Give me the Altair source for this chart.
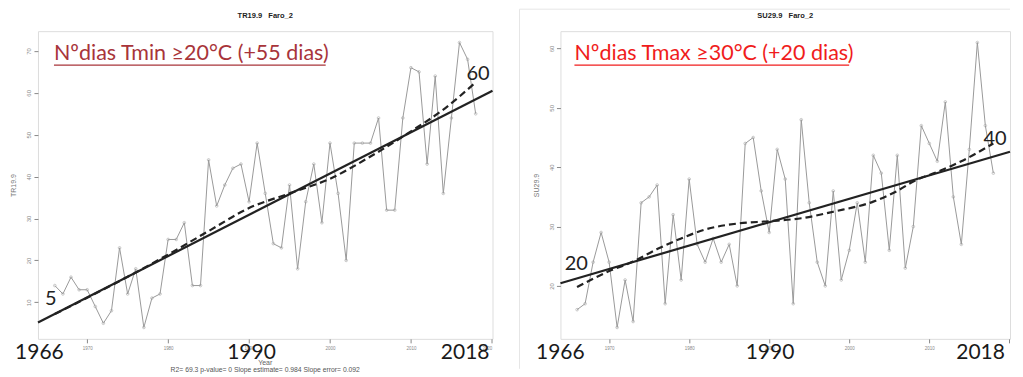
import altair as alt
import pandas as pd

# ---------------- data ----------------
years = list(range(1966, 2019))
tr_values = [14, 12, 16, 13, 13, 9, 5, 8, 23, 12,
             18, 4, 11, 12, 25, 25, 29, 14, 14, 44,
             33, 38, 42, 43, 34, 48, 36, 24, 23, 38,
             18, 34, 43, 29, 48, 36, 20, 48, 48, 48,
             54, 32, 32, 54, 66, 65, 43, 64, 36, 54,
             72, 68, 55]
su_values = [16, 17, 24, 29, 24, 13, 21, 14, 34, 35,
             37, 17, 32, 21, 38, 27, 24, 28, 24, 27,
             20, 44, 45, 36, 29, 43, 38, 17, 48, 34,
             24, 20, 36, 21, 26, 34, 24, 42, 39, 26,
             42, 23, 30, 47, 44, 41, 51, 35, 27, 43,
             61, 47, 39]

# smoothed (dashed) curves
tr_smooth_years = [1966, 1970, 1975, 1980, 1985, 1990, 1995, 2000, 2005, 2010, 2014, 2018]
tr_smooth_values = [7.2, 11.1, 16.1, 21.4, 27.0, 32.5, 36.0, 39.5, 44.8, 50.8, 56.0, 62.5]
su_smooth_years = [1966, 1970, 1973, 1976, 1979, 1982, 1986, 1990, 1994, 1998, 2003, 2006, 2008, 2011, 2014, 2018]
su_smooth_values = [19.8, 22.5, 24.1, 26.2, 28.0, 29.5, 30.5, 30.9, 31.4, 32.5, 34.2, 36.0, 37.6, 39.2, 41.0, 44.0]

# linear trends (ends at the plot edges)
trend_years = [1963.92, 2020.08]
tr_trend_values = [5.2, 60.5]
su_trend_values = [20.45, 42.6]

x_ticks = [1970, 1980, 1990, 2000, 2010, 2020]
tr_y_ticks = [10, 20, 30, 40, 50, 60, 70]
su_y_ticks = [20, 30, 40, 50, 60]
x_domain = [1963.92, 2020.08]
tr_y_domain = [1.28, 74.72]
su_y_domain = [11.08, 62.92]

big_year_labels = ["1966", "1990", "2018"]

H = 308
FONT = "Lato"
SP = "\u00a0\u00a0\u00a0"


def panel(W, vals, sm_years, sm_vals, tr_vals, ydomain, yticks, ytitle, title,
          note, note_color, note_x, note_w, end_labels, big_pos, stats, hide2020, frame):
    xs = alt.Scale(domain=x_domain, nice=False, zero=False)
    ys = alt.Scale(domain=ydomain, nice=False, zero=False)
    label_expr = "datum.value == 2020 ? '' : datum.label" if hide2020 else "datum.label"
    xax = alt.Axis(values=x_ticks, format="d", labelFontSize=4.5, labelColor="#888",
                   tickColor="#888", tickSize=4, labelPadding=3, domain=False,
                   grid=False, title=None, labelExpr=label_expr, labelFont="Liberation Sans")
    yax = alt.Axis(values=yticks, format="d", labelAngle=270, labelFontSize=6,
                   labelColor="#888", tickColor="#888", tickSize=4, labelPadding=2,
                   domain=False, grid=False, title=ytitle, titleFontSize=7,
                   titleFontWeight="normal", titleColor="#777", titlePadding=8,
                   minExtent=13, maxExtent=13, labelFont="Liberation Sans",
                   titleFont="Liberation Sans")

    df = pd.DataFrame({"year": years, "v": vals})
    base = alt.Chart(df)
    line = base.mark_line(color="#9a9a9a", strokeWidth=1).encode(
        x=alt.X("year:Q", scale=xs, axis=xax), y=alt.Y("v:Q", scale=ys, axis=yax))
    pts = base.mark_point(color="#a0a0a0", size=7, filled=False, strokeWidth=0.8).encode(
        x="year:Q", y="v:Q")

    sm = alt.Chart(pd.DataFrame({"year": sm_years, "v": sm_vals})).mark_line(
        color="#222", strokeWidth=2.2, strokeDash=[7, 4], interpolate="monotone").encode(
        x="year:Q", y="v:Q")
    tr = alt.Chart(pd.DataFrame({"year": trend_years, "v": tr_vals})).mark_line(
        color="#222", strokeWidth=2.2).encode(x="year:Q", y="v:Q")

    endl = alt.Chart(pd.DataFrame(end_labels)).mark_text(
        font=FONT, fontSize=20, color="#222").encode(
        x="year:Q", y="v:Q", text="t:N")

    bigl = alt.Chart(pd.DataFrame({"year": big_pos, "t": big_year_labels})).mark_text(
        font=FONT, fontSize=21, color="#1a1a1a", baseline="middle").encode(
        x="year:Q", y=alt.value(H + 14), text="t:N")

    def txt(t, x, y, **kw):
        return alt.Chart(pd.DataFrame({"t": [t]})).mark_text(**kw).encode(
            x=alt.value(x), y=alt.value(y), text="t:N")

    layers = [line, pts, sm, tr, endl, bigl,
              txt(title, W / 2, -15, font="Liberation Sans", fontSize=7.5,
                  fontWeight="bold", color="#222"),
              txt(note, note_x, 23, font=FONT, fontSize=21.5, color=note_color,
                  align="left", baseline="middle"),
              alt.Chart(pd.DataFrame({"a": [0]})).mark_rule(color=note_color, strokeWidth=1.5).encode(
                  x=alt.value(note_x), x2=alt.value(note_x + note_w), y=alt.value(34))]
    if stats:
        layers.append(txt("Year", W / 2, 332, font="Liberation Sans", fontSize=7,
                          color="#666"))
        layers.append(txt(stats, W / 2, 339, font="Liberation Sans", fontSize=6.8,
                          color="#555"))
    if frame:
        layers.append(alt.Chart(pd.DataFrame({"a": [0]})).mark_rule(color="#e6e6e6", strokeWidth=1).encode(
            x=alt.value(-41), x2=alt.value(W), y=alt.value(-22)))
        layers.append(alt.Chart(pd.DataFrame({"a": [0]})).mark_rule(color="#e6e6e6", strokeWidth=1).encode(
            x=alt.value(-41), y=alt.value(-22), y2=alt.value(H + 30)))
    return alt.layer(*layers).properties(width=W, height=H)


left = panel(455, tr_values, tr_smooth_years, tr_smooth_values, tr_trend_values,
             tr_y_domain, tr_y_ticks, "TR19.9", "TR19.9" + SP + "Faro_2",
             "Nºdias Tmin ≥20°C (+55 dias)", "#a8343a", 16, 272,
             {"year": [1965.5, 2018.3], "v": [10.8, 64.6], "t": ["5", "60"]},
             [1964.1, 1990.3, 2016.7],
             "R2= 69.3  p-value= 0  Slope estimate= 0.984  Slope error= 0.092",
             False, False)
right = panel(450, su_values, su_smooth_years, su_smooth_values, su_trend_values,
              su_y_domain, su_y_ticks, "SU29.9", "SU29.9" + SP + "Faro_2",
              "Nºdias Tmax ≥30°C (+20 dias)", "#f01c1c", 14, 275,
              {"year": [1965.9, 2018.2], "v": [23.7, 44.8], "t": ["20", "40"]},
              [1963.9, 1990.1, 2016.4],
              None, True, True)

chart = alt.hconcat(left, right, spacing=68, bounds="flush").properties(
    padding={"left": 1, "top": 0, "right": 0, "bottom": 0}
).configure_view(stroke="#9c9c9c", strokeWidth=1).configure(background="white")

chart.save("out.html", embed_options={"renderer": "svg", "actions": False})
